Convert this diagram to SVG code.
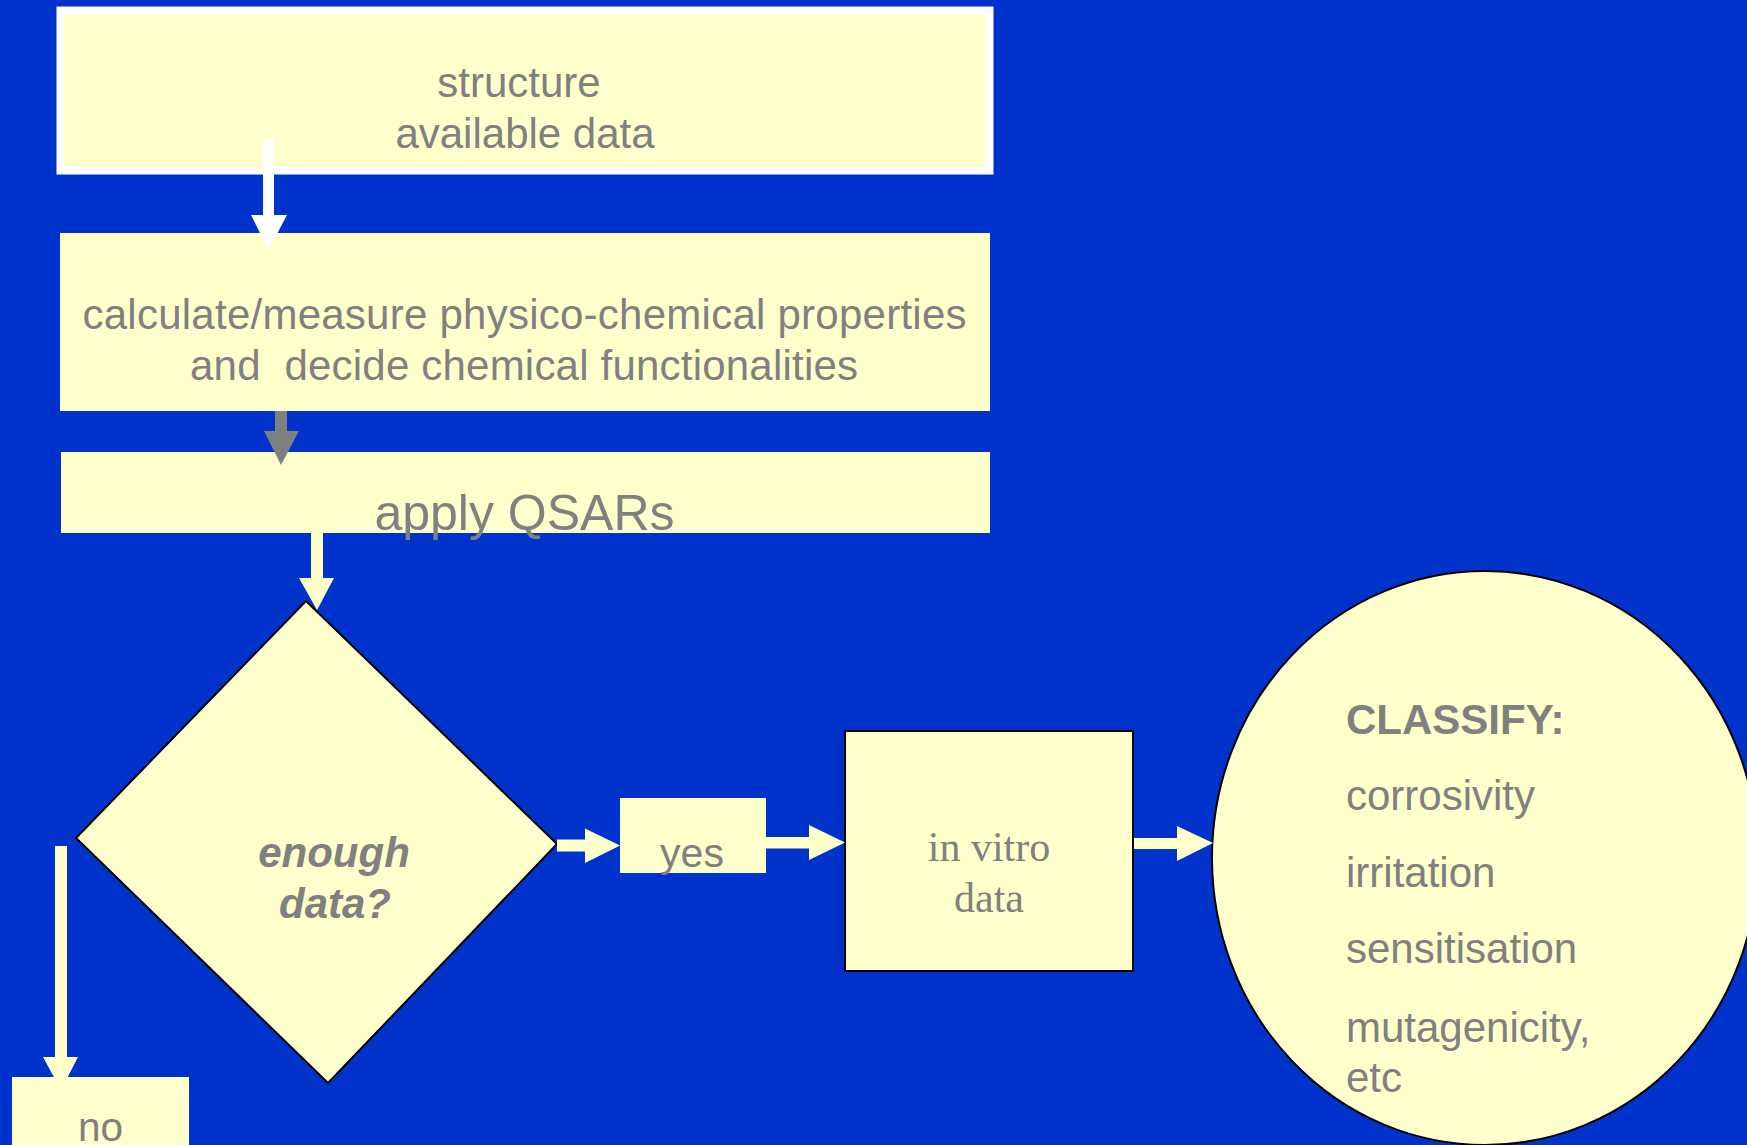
<svg xmlns="http://www.w3.org/2000/svg" width="1747" height="1145" viewBox="0 0 1747 1145">
  <style>
    .box { fill: #FFFFCC; }
    .outlined { fill: #FFFFCC; stroke: #000000; stroke-width: 2; }
    .lbl { font-family: "Liberation Sans", Arial, sans-serif; fill: #808080; }
    .mid { text-anchor: middle; }
    .serif { font-family: "Liberation Serif", "Times New Roman", serif; fill: #808080; }
    .arrow-w { fill: #FFFFFF; }
    .arrow-y { fill: #FFFFCC; }
    .arrow-g { fill: #808080; }
  </style>

  <!-- background -->
  <rect x="0" y="0" width="1747" height="1145" fill="#0033CC"/>

  <!-- start box with white frame -->
  <g id="node-structure">
    <rect x="60.5" y="10.5" width="929" height="160" class="box" stroke="#FFFFFF" stroke-width="8"/>
    <text class="lbl mid" x="519" y="97" font-size="42">structure</text>
    <text class="lbl mid" x="525" y="148" font-size="42">available data</text>
  </g>

  <g id="node-calculate">
    <rect x="60" y="233" width="930" height="178" class="box"/>
    <text class="lbl mid" x="524.5" y="329" font-size="42" textLength="884" lengthAdjust="spacing">calculate/measure physico-chemical properties</text>
    <text class="lbl mid" x="524" y="380" font-size="42" style="white-space:pre" textLength="668" lengthAdjust="spacing">and  decide chemical functionalities</text>
  </g>

  <g id="node-qsar">
    <rect x="61" y="452" width="929" height="81" class="box"/>
    <text class="lbl mid" x="524.5" y="530" font-size="50">apply QSARs</text>
  </g>

  <g id="node-decision">
    <polygon points="306,601 557,844 328,1083 76,838" class="outlined"/>
    <text class="lbl mid" x="334" y="867" font-size="42" font-weight="bold" font-style="italic">enough</text>
    <text class="lbl mid" x="335" y="918" font-size="42" font-weight="bold" font-style="italic">data?</text>
  </g>

  <g id="node-yes">
    <rect x="620" y="798" width="146" height="75" class="box"/>
    <text class="lbl mid" x="692" y="867" font-size="41">yes</text>
  </g>

  <g id="node-invitro">
    <rect x="845" y="731" width="288" height="240" class="outlined"/>
    <text class="serif mid" x="989" y="861" font-size="42">in vitro</text>
    <text class="serif mid" x="989" y="912" font-size="42">data</text>
  </g>

  <g id="node-classify">
    <ellipse cx="1485" cy="858" rx="273" ry="287" class="outlined"/>
    <text class="lbl" x="1346" y="734" font-size="42" font-weight="bold">CLASSIFY:</text>
    <text class="lbl" x="1346" y="810" font-size="42">corrosivity</text>
    <text class="lbl" x="1346" y="887" font-size="42">irritation</text>
    <text class="lbl" x="1346" y="963" font-size="42">sensitisation</text>
    <text class="lbl" x="1346" y="1042" font-size="42">mutagenicity,</text>
    <text class="lbl" x="1346" y="1092" font-size="42">etc</text>
  </g>

  <!-- block arrows between the steps -->
  <g id="connectors">
    <!-- structure -> calculate -->
    <polygon class="arrow-w" points="263,139 274,139 274,215 287,215 268.5,250 251,215 263,215"/>
    <!-- calculate -> apply QSARs -->
    <polygon class="arrow-g" points="275,411 287,411 287,431 299,431 281,465 264,431 275,431"/>
    <!-- apply QSARs -> decision -->
    <polygon class="arrow-y" points="311,533 323,533 323,578 334,578 317,610 299,578 311,578"/>
    <!-- decision -> yes -->
    <polygon class="arrow-y" points="557,839.5 585,839.5 585,828.5 620,845.5 585,863 585,851.5 557,851.5"/>
    <!-- yes -> in vitro -->
    <polygon class="arrow-y" points="766,837 809,837 809,825 845,842.5 809,860 809,848.5 766,848.5"/>
    <!-- in vitro -> classify -->
    <polygon class="arrow-y" points="1134,838 1177,838 1177,826 1213,843 1177,861 1177,849 1134,849"/>
    <!-- decision -> no -->
    <polygon class="arrow-y" points="55,846 67,846 67,1057 78,1057 61,1090 43,1057 55,1057"/>
  </g>

  <g id="node-no">
    <rect x="12" y="1077" width="177" height="80" class="box"/>
    <text class="lbl mid" x="100.5" y="1141" font-size="40.5">no</text>
  </g>
</svg>
